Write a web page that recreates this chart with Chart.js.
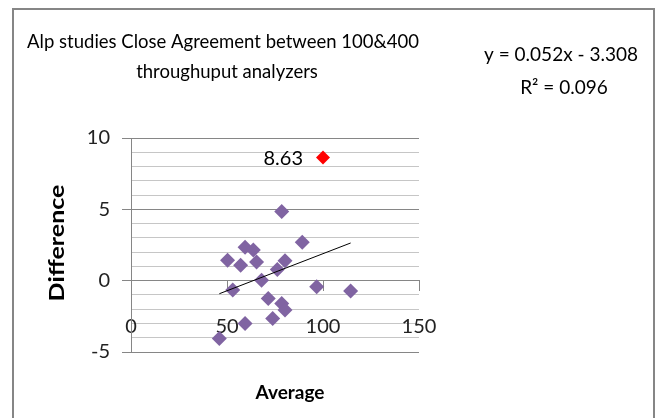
<!DOCTYPE html>
<html>
<head>
<meta charset="utf-8">
<script src="https://cdn.jsdelivr.net/npm/chart.js@4/dist/chart.umd.min.js"></script>
<style>
  html, body { margin: 0; padding: 0; background: #fff; }
  #wrap { width: 661px; height: 418px; }
</style>
</head>
<body>
<div id="wrap"><canvas id="chart" width="661" height="418"></canvas></div>
<script>
// values
var averageX = [78.5, 89.2, 59.4, 63.7, 50.3, 57.1, 65.4, 80.2, 76.2, 68, 53, 96.7, 114.4, 71.5, 78.5, 80.2, 73.8, 59.4, 46];
var differenceY = [4.85, 2.7, 2.35, 2.15, 1.43, 1.08, 1.31, 1.4, 0.78, 0.03, -0.66, -0.43, -0.73, -1.25, -1.6, -2.06, -2.65, -3.0, -4.05];
var outlierX = [100];
var outlierY = [8.63];
var slope = 0.052;
var intercept = -3.308;
var rSquared = 0.096;
var titleLines = ["Alp studies Close Agreement between 100&400", "throughuput analyzers"];
var xTitle = "Average";
var yTitle = "Difference";

var fontFamily = "Lato, 'Open Sans', sans-serif";
var axisGray = "#868686";

function toPoints(xs, ys){
    var pts = [];
    for(var i=0; i<xs.length; i++){
        pts.push({x: xs[i], y: ys[i]});
    }
    return pts;
}

// trendline spans the range of the averages
var trendMin = Math.min.apply(null, averageX);
var trendMax = Math.max.apply(null, averageX);
var trendData = [
    {x: trendMin, y: slope * trendMin + intercept},
    {x: trendMax, y: slope * trendMax + intercept}
];

// text that Excel put around the plot
var textPlugin = {
    id: "excelText",
    beforeDraw: function(chart){
        var ctx = chart.ctx;
        ctx.save();
        ctx.fillStyle = "#fff";
        ctx.fillRect(0, 0, chart.width, chart.height);
        ctx.strokeStyle = axisGray;
        ctx.lineWidth = 2;
        ctx.strokeRect(13, 9, 641, 430);
        ctx.restore();
    },
    afterDraw: function(chart){
        var ctx = chart.ctx;
        ctx.save();
        ctx.fillStyle = "#000";
        ctx.textAlign = "center";
        ctx.textBaseline = "middle";

        ctx.font = "18.5px " + fontFamily;
        ctx.fillText(titleLines[0], 223, 42);
        ctx.fillText(titleLines[1], 227, 72);

        ctx.font = "19px " + fontFamily;
        ctx.fillText("y = " + slope.toFixed(3) + "x - " + Math.abs(intercept).toFixed(3), 561, 55);
        ctx.fillText("R\u00b2 = " + rSquared.toFixed(3), 564, 88);

        ctx.font = "bold 19px " + fontFamily;
        ctx.fillText(xTitle, 290, 393);
        ctx.save();
        ctx.translate(58, 243);
        ctx.rotate(-Math.PI / 2);
        ctx.font = "bold 20px " + fontFamily;
        ctx.scale(1.25, 1);
        ctx.fillText(yTitle, 0, 0);
        ctx.restore();

        // data label of the outlier
        var xs = chart.scales.x, ys = chart.scales.y;
        ctx.font = "20px " + fontFamily;
        ctx.textAlign = "right";
        ctx.fillText(outlierY[0].toFixed(2), xs.getPixelForValue(outlierX[0]) - 20, ys.getPixelForValue(outlierY[0]) + 1);
        ctx.restore();
    }
};

new Chart("chart", {
    type: "scatter",
    data: {
        datasets: [
            {
                type: "line",
                data: trendData,
                borderColor: "#000",
                borderWidth: 1,
                pointRadius: 0,
                fill: false
            },
            {
                data: toPoints(outlierX, outlierY),
                pointStyle: "rectRot",
                pointRadius: 7,
                backgroundColor: "#ff0000",
                borderColor: "#ff0000",
                borderWidth: 0
            },
            {
                data: toPoints(averageX, differenceY),
                pointStyle: "rectRot",
                pointRadius: 7.5,
                backgroundColor: "#8064a2",
                borderColor: "#8064a2",
                borderWidth: 0
            }
        ]
    },
    options: {
        responsive: false,
        animation: false,
        layout: {
            padding: { left: 0, top: 138, right: 242, bottom: 66 }
        },
        plugins: {
            legend: { display: false },
            tooltip: { enabled: false }
        },
        scales: {
            x: {
                type: "linear",
                position: { y: 0 },
                min: 0,
                max: 150,
                ticks: {
                    stepSize: 50,
                    color: "#222",
                    padding: 24,
                    font: { family: fontFamily, size: 20 }
                },
                grid: {
                    drawOnChartArea: false,
                    drawTicks: true,
                    tickLength: 10,
                    color: axisGray
                },
                border: { color: axisGray, width: 1 }
            },
            y: {
                min: -5,
                max: 10,
                afterFit: function(scale){ scale.width = 131; },
                ticks: {
                    stepSize: 1,
                    autoSkip: false,
                    color: "#222",
                    padding: 12,
                    font: { family: fontFamily, size: 20 },
                    callback: function(v){ return v % 5 === 0 ? v : ""; }
                },
                grid: {
                    tickLength: 9,
                    color: function(c){ return c.tick && c.tick.value % 5 === 0 ? axisGray : "#c6c6c6"; },
                    tickColor: function(c){ return c.tick && c.tick.value % 5 === 0 ? axisGray : "rgba(0,0,0,0)"; }
                },
                border: { color: axisGray, width: 1 }
            }
        }
    },
    plugins: [textPlugin]
});
</script>
</body>
</html>
